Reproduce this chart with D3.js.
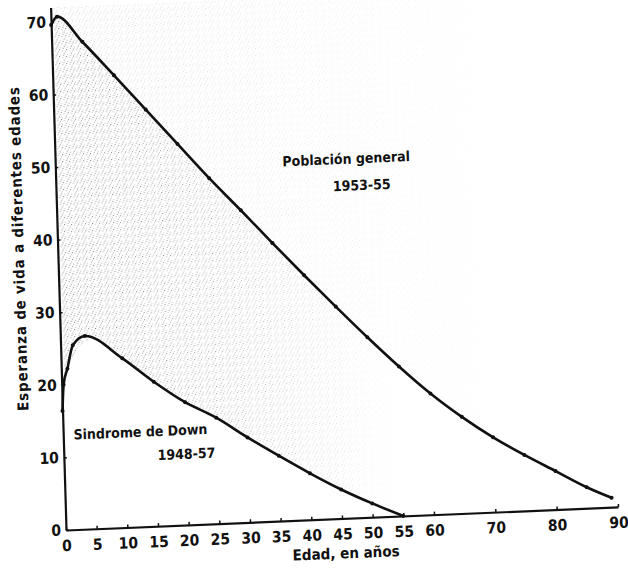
<!DOCTYPE html>
<html>
<head>
<meta charset="utf-8">
<script src="https://cdn.jsdelivr.net/npm/d3@7"></script>
<style>
  body { margin: 0; background: #fff; }
  svg { display: block; }
  .axis path, .axis line { stroke: #111; }
  .axis text { font-family: "DejaVu Sans Condensed", "DejaVu Sans", sans-serif; font-weight: bold; fill: #111; }
  .label { font-family: "DejaVu Sans Condensed", "DejaVu Sans", sans-serif; fill: #111; }
</style>
</head>
<body>
<div id="chart"></div>
<script>
// Esperanza de vida por edad
const popAges = [0, 1, 5, 10, 15, 20, 25, 30, 35, 40, 45, 50, 55, 60, 65, 70, 75, 80, 85, 89];
const popValues = [69.6, 70.7, 67.1, 62.3, 57.4, 52.5, 47.6, 43.0, 38.3, 33.7, 29.2, 24.8, 20.6, 16.7, 13.3, 10.3, 7.7, 5.3, 2.9, 1.3];

const downAges = [0, 0.3, 1, 2, 4, 10, 15, 20, 25, 30, 35, 40, 45, 50, 55];
const downValues = [16.4, 20.0, 22.2, 25.4, 26.6, 23.3, 19.9, 16.9, 14.6, 11.7, 9.0, 6.4, 4.0, 1.9, 0];

const xTicks = [0, 5, 10, 15, 20, 25, 30, 35, 40, 45, 50, 55, 60, 70, 80, 90];
const yTicks = [0, 10, 20, 30, 40, 50, 60, 70];

const svgWidth = 628,
    svgHeight = 569,
    width = 552,
    height = 522.5;

const pop = popAges.map((a, i) => ({ age: a, v: popValues[i] }));
const down = downAges.map((a, i) => ({ age: a, v: downValues[i] }));

const svg = d3.select("#chart").append("svg")
    .attr("width", svgWidth)
    .attr("height", svgHeight);

// the scanned page is slightly rotated / sheared
const g = svg.append("g")
    .attr("transform", "matrix(1,-0.0417,0.0295,1,50.6,7.5)");

const xScale = d3.scaleLinear().domain([0, 90]).range([0, width]),
    yScale = d3.scaleLinear().domain([0, 72]).range([height, 0]);

// stipple texture (scan halftone)
const defs = svg.append("defs");
const pat = defs.append("pattern")
    .attr("id", "stip")
    .attr("width", 7).attr("height", 7)
    .attr("patternUnits", "userSpaceOnUse");
[[0, 0, "#666"], [3, 1, "#999"], [5, 4, "#777"], [1, 5, "#aaa"], [4, 6, "#888"], [6, 2, "#aaa"]].forEach((p) => {
    pat.append("rect").attr("x", p[0]).attr("y", p[1]).attr("width", 1).attr("height", 1).attr("fill", p[2]);
});
const grad = defs.append("linearGradient")
    .attr("id", "fade")
    .attr("gradientUnits", "userSpaceOnUse")
    .attr("x1", 0).attr("x2", xScale(55)).attr("y1", 0).attr("y2", 0);
grad.append("stop").attr("offset", 0).attr("stop-color", "#fff").attr("stop-opacity", 0.9);
grad.append("stop").attr("offset", 0.5).attr("stop-color", "#fff").attr("stop-opacity", 0.6);
grad.append("stop").attr("offset", 1).attr("stop-color", "#fff").attr("stop-opacity", 0);
defs.append("mask").attr("id", "fadeMask")
    .append("rect")
    .attr("x", 0).attr("y", -20).attr("width", width).attr("height", height + 20)
    .attr("fill", "url(#fade)");
const grad2 = defs.append("linearGradient")
    .attr("id", "fade2")
    .attr("gradientUnits", "userSpaceOnUse")
    .attr("x1", 0).attr("x2", xScale(75)).attr("y1", 0).attr("y2", 0);
grad2.append("stop").attr("offset", 0).attr("stop-color", "#fff").attr("stop-opacity", 0.35);
grad2.append("stop").attr("offset", 1).attr("stop-color", "#fff").attr("stop-opacity", 0);
defs.append("mask").attr("id", "fadeMask2")
    .append("rect")
    .attr("x", 0).attr("y", -20).attr("width", width).attr("height", height + 20)
    .attr("fill", "url(#fade2)");

const downAt = (a) => {
    if (a >= 55) return 0;
    const i = d3.bisectLeft(downAges, a);
    if (downAges[i] === a) return downValues[i];
    const t = (a - downAges[i - 1]) / (downAges[i] - downAges[i - 1]);
    return downValues[i - 1] + t * (downValues[i] - downValues[i - 1]);
};

g.append("path")
    .datum(pop)
    .attr("fill", "url(#stip)")
    .attr("mask", "url(#fadeMask)")
    .attr("d", d3.area()
        .curve(d3.curveMonotoneX)
        .x((d) => xScale(d.age))
        .y0((d) => yScale(downAt(d.age)))
        .y1((d) => yScale(d.v)));
g.append("path")
    .datum(pop)
    .attr("fill", "url(#stip)")
    .attr("mask", "url(#fadeMask2)")
    .attr("d", d3.area()
        .curve(d3.curveMonotoneX)
        .x((d) => xScale(d.age))
        .y0((d) => yScale(d.v))
        .y1(yScale(72)));

// axes
const xAxis = g.append("g")
    .attr("class", "axis")
    .attr("transform", `translate(0, ${height})`)
    .call(d3.axisBottom(xScale).tickValues(xTicks).tickSizeInner(-3).tickSizeOuter(0).tickPadding(10));
const yAxis = g.append("g")
    .attr("class", "axis")
    .call(d3.axisLeft(yScale).tickValues(yTicks).tickSizeInner(-3).tickSizeOuter(0).tickPadding(5));
xAxis.select(".domain").attr("stroke-width", 2.2);
yAxis.select(".domain").attr("stroke-width", 2.2);
xAxis.selectAll(".tick line").attr("stroke-width", 1.5);
yAxis.selectAll(".tick line").attr("stroke-width", 1.5);
xAxis.selectAll("text").attr("font-size", 15.5);
yAxis.selectAll("text").attr("font-size", 15.5);

// axis titles
g.append("text")
    .attr("class", "label")
    .attr("text-anchor", "middle")
    .attr("font-size", 15)
    .attr("font-weight", 600)
    .attr("transform", `translate(${xScale(45.5)}, ${height + 40})`)
    .text("Edad, en años");
g.append("text")
    .attr("class", "label")
    .attr("text-anchor", "middle")
    .attr("font-size", 15)
    .attr("font-weight", 600)
    .attr("letter-spacing", 0.8)
    .attr("transform", `translate(-34, ${yScale(39)}) rotate(-90)`)
    .text("Esperanza de vida a diferentes edades");

// curves
const line = d3.line()
    .curve(d3.curveMonotoneX)
    .x((d) => xScale(d.age))
    .y((d) => yScale(d.v));

g.append("path")
    .datum(pop)
    .attr("fill", "none")
    .attr("stroke", "#111")
    .attr("stroke-width", 2.6)
    .attr("d", line);
g.append("path")
    .datum(down)
    .attr("fill", "none")
    .attr("stroke", "#111")
    .attr("stroke-width", 2.6)
    .attr("d", line);

g.selectAll(".pdot")
    .data(pop.concat(down))
    .join("circle")
    .attr("class", "pdot")
    .attr("cx", (d) => xScale(d.age))
    .attr("cy", (d) => yScale(d.v))
    .attr("r", 2)
    .attr("fill", "#111");

// curve labels
const lab = (txt, a, v) => g.append("text")
    .attr("class", "label")
    .attr("text-anchor", "middle")
    .attr("font-size", 14)
    .attr("font-weight", 600)
    .attr("x", xScale(a))
    .attr("y", yScale(v))
    .text(txt);
lab("Población general", 47.4, 48.8);
lab("1953-55", 49.8, 45.1);
lab("Sindrome de Down", 12.6, 12.4);
lab("1948-57", 20.0, 9.1);
</script>
</body>
</html>
